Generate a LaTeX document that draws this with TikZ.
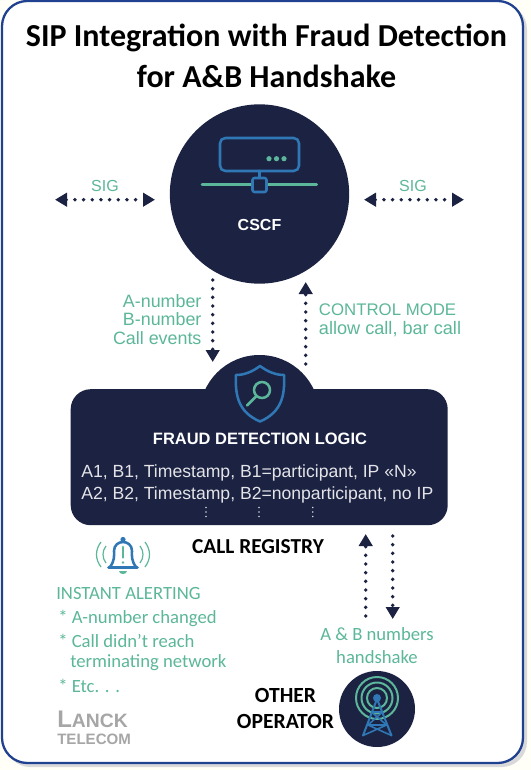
\documentclass[tikz,border=0pt]{standalone}
\usepackage{fontspec}
\setmainfont{Carlito}
\newfontfamily\uifont{Liberation Sans}
\usetikzlibrary{arrows.meta}
\definecolor{navy}{HTML}{1B2242}
\definecolor{iconblue}{HTML}{2F78B5}
\definecolor{mint}{HTML}{5CB79A}
\definecolor{framecol}{HTML}{1F418F}

\begin{document}
\begin{tikzpicture}[
    x=0.75pt, y=-0.75pt,
    >={Triangle[width=10pt,length=9pt]},
    flow/.style={navy, line width=2.9pt, line cap=round, dash pattern=on 0pt off 6.5pt},
    blob/.style={circle, fill=navy, inner sep=0pt},
    ui/.style={inner sep=0pt, text=mint, font=\uifont\fontsize{12}{14}\selectfont},
    note/.style={inner sep=0pt, anchor=west, text=mint, font=\fontsize{14}{16}\selectfont},
    head/.style={inner sep=0pt, align=center, font=\bfseries\fontsize{16}{19.5}\selectfont},
    icon/.style={iconblue, line width=1.9pt, line join=round, line cap=round},
    ring/.style={mint, line width=1.9pt, line cap=round},
]
\useasboundingbox (0,0) rectangle (531,770);

% ---- Page and frame ----
\fill[black!2!yellow!3] (0,0) rectangle (531,770);
\fill[black!15, rounded corners=19pt] (5,4) rectangle (527,767);
\draw[framecol, line width=1.7pt, fill=white, rounded corners=19pt] (2,1) rectangle (523,763);

% ---- Title ----
\node[inner sep=0pt, align=center, font=\bfseries\fontsize{24}{31}\selectfont] (title)
    at (266.5,56) {SIP Integration with Fraud Detection\\for A\&B Handshake};

% ---- CSCF ----
\node[blob, minimum size=134.5pt] (cscf) at (259.5,194) {};
\draw[icon, rounded corners=4pt] (220,138) rectangle (299,171);
\foreach \dotx in {269,276.5,284}
    \fill[mint] (\dotx,158.7) circle (2.6);
\draw[icon] (259.5,171) -- (259.5,179);
\draw[ring] (202,184.7) -- (316.7,184.7);
\draw[icon, fill=navy, rounded corners=1.5pt] (252.5,178) rectangle (266.5,192);
\node[ui, text=white, font=\uifont\bfseries\fontsize{12}{14}\selectfont] (cscflabel)
    at (259.5,225) {CSCF};

% ---- Fraud detection logic ----
\node[blob, minimum size=90pt] (bump) at (259.5,415) {};
\node[rectangle, fill=navy, rounded corners=15pt, minimum width=282.75pt,
    minimum height=102pt, inner sep=0pt] (fraud) at (259.2,457.2) {};
\draw[icon, fill=navy] (260,366) .. controls (252,372) and (244,375) .. (236,375)
    .. controls (235,395) and (238,412) .. (260,421.5)
    .. controls (282,412) and (285,395) .. (284,375)
    .. controls (276,375) and (268,372) .. (260,366) -- cycle;
\draw[ring] (262,390) circle (8);
\draw[ring] (256.5,396) -- (247,405.5);
\node[ui, text=white, font=\uifont\bfseries\fontsize{12.35}{14}\selectfont] (fraudlabel)
    at (260,439) {FRAUD DETECTION LOGIC};
\node[ui, text=white!88!navy, anchor=west, align=left, font=\uifont\fontsize{13.2}{16.5}\selectfont] (records)
    at (81,484) {A1, B1, Timestamp, B1=participant, IP «N»\\A2, B2, Timestamp, B2=nonparticipant, no IP};
\foreach \dotx in {206,259,312.7}
    \foreach \doty in {507.5,512,516.5}
        \fill[white!80!navy] (\dotx,\doty) circle (0.9);

\node[head] (registry) at (258,547) {CALL REGISTRY};

% ---- SIG arrows ----
\coordinate (sigAa) at (55,199.7);
\coordinate (sigAb) at (155,199.7);
\coordinate (sigBa) at (364,199.7);
\coordinate (sigBb) at (464,199.7);
\draw[<->, flow] (sigAa) -- (sigAb);
\draw[<->, flow] (sigBa) -- (sigBb);
\node[ui] (sigA) at (105,186) {SIG};
\node[ui] (sigB) at (413,186) {SIG};

% ---- CSCF <-> fraud logic ----
\coordinate (downA) at (212.7,280);
\coordinate (downB) at (212.7,362);
\coordinate (upA) at (305.7,364);
\coordinate (upB) at (305.7,282);
\draw[->, flow] (downA) -- (downB);
\draw[->, flow] (upA) -- (upB);
\node[ui, align=right, anchor=east, font=\uifont\fontsize{13.4}{13.6}\selectfont] (numbers)
    at (201.7,319.5) {A-number\\B-number\\Call events};
\node[ui, align=left, anchor=west, font=\uifont\fontsize{13.6}{14.2}\selectfont] (mode)
    at (318.7,320.5) {{\fontsize{12.6}{14.2}\selectfont CONTROL MODE}\\allow call, bar call};

% ---- Alerting ----
\draw[icon] (108.5,567.5) -- (137.5,567.5);
\draw[icon] (110,567) .. controls (115,560) and (114,556) .. (114,551)
    .. controls (114,539) and (132,539) .. (132,551)
    .. controls (132,556) and (131,560) .. (136,567);
\fill[iconblue] (123,539.5) circle (2.6);
\fill[mint] (119,570.5) -- (127,570.5) .. controls (127,575) and (119,575) .. (119,570.5) -- cycle;
\draw[ring] (123,547) -- (123,557.5);
\fill[mint] (123,562.5) circle (1.3);
\foreach \sgn in {-1,1} {
    \draw[mint, line width=0.9pt] ({123+\sgn*22},542) .. controls ({123+\sgn*28},550) and ({123+\sgn*28},559) .. ({123+\sgn*22},567);
    \draw[mint, line width=0.9pt] ({123+\sgn*17},546) .. controls ({123+\sgn*21},551) and ({123+\sgn*21},558) .. ({123+\sgn*17},563);
}
\node[note] (alert) at (56,593) {INSTANT ALERTING};
\node[note] (alertA) at (58,618) {* A-number changed};
\node[note] (alertB) at (58,641) {* Call didn't reach};
\node[note] (alertC) at (70,663) {terminating network};
\node[note] (alertD) at (58,686) {* Etc. . .};

% ---- Logo ----
\node[inner sep=0pt, anchor=west, text=black!35, font=\uifont\bfseries\fontsize{14.5}{15}\selectfont] (lanck)
    at (57,719.5) {{\fontsize{18}{18}\selectfont L}ANCK};
\node[inner sep=0pt, anchor=west, text=black!35, font=\uifont\bfseries\fontsize{11.3}{12}\selectfont] (telecom)
    at (57,739) {TELECOM};

% ---- Other operator ----
\coordinate (opupA) at (365.7,616);
\coordinate (opupB) at (365.7,534);
\coordinate (opdownA) at (392.7,536);
\coordinate (opdownB) at (392.7,619);
\draw[->, flow] (opupA) -- (opupB);
\draw[->, flow] (opdownA) -- (opdownB);
\node[note, anchor=center, align=center, font=\fontsize{14}{17.2}\selectfont] (handshake)
    at (377,645.5) {A \& B numbers\\handshake};
\node[head, font=\bfseries\fontsize{16.2}{19.5}\selectfont] (operator) at (285.5,708) {OTHER\\OPERATOR};
\node[blob, minimum size=57pt] (tower) at (377,709) {};
\foreach \rad in {21,15.5,10}
    \draw[ring, line width=1.5pt] (377,698) circle (\rad);
\draw[icon, line width=1.5pt] (363,735.5) -- (377,699) -- (391.5,735.5);
\draw[icon, line width=1.2pt] (371.5,712) -- (382.5,712) (368,725) -- (386.5,725)
    (371.5,712) -- (386.5,725) (382.5,712) -- (368,725) (368,725) -- (391.5,735.5) (386.5,725) -- (363,735.5);
\fill[iconblue] (377,698) circle (4);

\end{tikzpicture}
\end{document}
